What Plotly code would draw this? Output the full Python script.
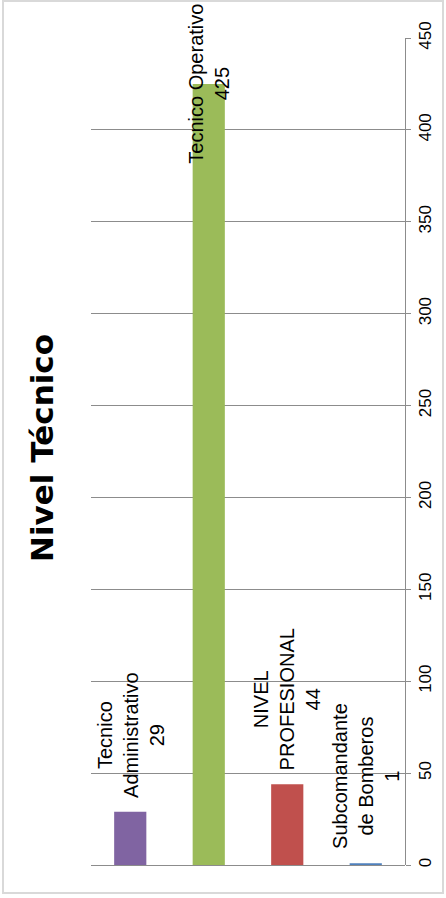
import plotly.graph_objects as go

categories = ["Tecnico Administrativo", "Tecnico Operativo", "NIVEL PROFESIONAL", "Subcomandante de Bomberos"]
label_texts = ["Tecnico<br>Administrativo", "Tecnico Operativo", "NIVEL<br>PROFESIONAL", "Subcomandante<br>de Bomberos"]
values = [29, 425, 44, 1]
colors = ["#8064A2", "#9BBB59", "#C0504D", "#4F81BD"]
y_ticks = [0, 50, 100, 150, 200, 250, 300, 350, 400, 450]
title_text = "Nivel Técnico"

W, H = 446, 898
L, R, T, B = 91, 41, 38, 33
pw, ph = W - L - R, H - T - B

fig = go.Figure()
fig.add_trace(go.Bar(
    x=categories, y=values, marker=dict(color=colors, line=dict(width=0)),
    width=0.41, showlegend=False, hoverinfo="skip",
))

anchors = ["bottom", "middle", "bottom", "bottom"]
shifts = [12, 0, 12, 12]
for c, t, v, a, s in zip(categories, label_texts, values, anchors, shifts):
    fig.add_annotation(
        x=c, y=v, xref="x", yref="y", text=f"{t}<br>{v}", showarrow=False,
        textangle=-90, xanchor="center", yanchor=a, yshift=s, align="center",
        font=dict(family="Liberation Sans, Arial, sans-serif", size=20, color="#000000"),
    )

fig.add_annotation(
    x=(42 - L) / pw, y=(H - B - 448) / ph, xref="paper", yref="paper",
    text=f"<b>{title_text}</b>", showarrow=False, textangle=-90,
    xanchor="center", yanchor="middle",
    font=dict(family="DejaVu Sans, sans-serif", size=31, color="#000000"),
)

# outer chart border
fig.add_shape(type="rect", xref="paper", yref="paper",
              x0=(3 - L) / pw, x1=(443 - L) / pw, y0=(H - B - 893) / ph, y1=(H - B - 1) / ph,
              line=dict(color="#D9D9D9", width=2), fillcolor="rgba(0,0,0,0)", layer="below")

fig.update_layout(
    width=W, height=H, margin=dict(l=L, r=R, t=T, b=B, pad=0),
    paper_bgcolor="white", plot_bgcolor="white",
    font=dict(family="Liberation Sans, Arial, sans-serif", color="#000000"),
)
fig.update_xaxes(showticklabels=False, showgrid=False, showline=False, zeroline=False, ticks="",
                 fixedrange=True)
fig.update_yaxes(range=[0, 450], side="right", tickvals=y_ticks, ticktext=[str(v) for v in y_ticks],
                 tickangle=-90, showgrid=True, gridcolor="#8C8C8C", gridwidth=1,
                 zeroline=True, zerolinecolor="#8C8C8C", zerolinewidth=1,
                 showline=True, linecolor="#8C8C8C", linewidth=1,
                 ticks="outside", ticklen=5, tickcolor="#8C8C8C",
                 tickfont=dict(family="Liberation Sans, Arial, sans-serif", size=17, color="#000000"),
                 fixedrange=True)

fig.write_html("out.html", config={"displayModeBar": False, "staticPlot": True},
               post_script="document.body.style.margin='0';document.body.style.overflow='hidden';")
